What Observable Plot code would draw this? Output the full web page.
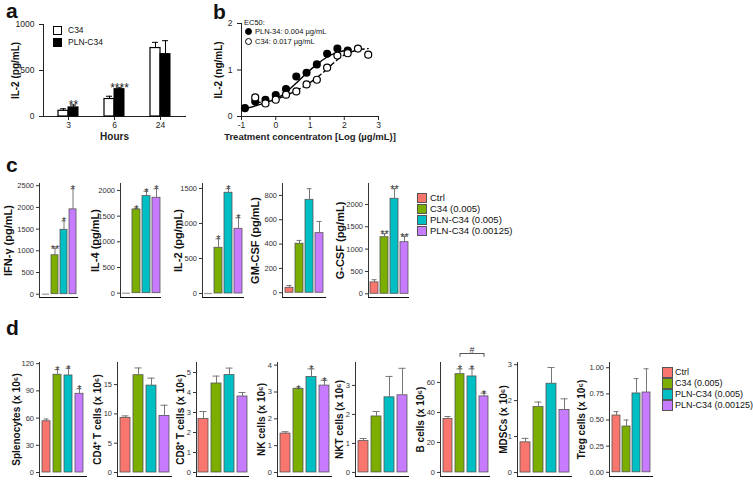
<!DOCTYPE html>
<html>
<head>
<meta charset="utf-8">
<script src="https://cdn.jsdelivr.net/npm/d3@7"></script>
<script src="https://cdn.jsdelivr.net/npm/@observablehq/plot@0.6"></script>
<style>
html,body{margin:0;padding:0;background:#fff;}
#fig{position:relative;width:753px;height:493px;overflow:hidden;background:#fff;font-family:"Liberation Sans",Arial,Helvetica,sans-serif;color:#111;}
.letter{position:absolute;font-weight:bold;font-size:21px;line-height:21px;}
</style>
</head>
<body>
<div id="fig"></div>
<script>
// ---------------- DATA ----------------
// Panel a
const hours = ["3", "6", "24"];
const aC34 = [62, 190, 744];
const aC34Err = [22, 30, 62];
const aPLN = [99, 297, 678];
const aPLNErr = [26, 14, 146];
const aStars = ["**", "****", ""];
const aSeries = ["C34", "PLN-C34"];

// Panel b
const bPLNx = [-0.9, -0.6, -0.3, 0, 0.3, 0.6, 0.9, 1.2, 1.5, 1.8, 2.1];
const bPLNy = [0.18, 0.32, 0.36, 0.46, 0.59, 0.86, 0.94, 1.12, 1.35, 1.46, 1.42];
const bC34x = [-0.6, -0.3, 0, 0.3, 0.6, 0.9, 1.2, 1.5, 1.8, 2.1, 2.4, 2.7];
const bC34y = [0.41, 0.28, 0.36, 0.47, 0.54, 0.69, 0.79, 1.05, 1.31, 1.36, 1.46, 1.33];
const bFitPLNx = [-0.9, -0.5, 0, 0.3, 0.6, 0.9, 1.2, 1.5, 1.8, 2.2];
const bFitPLNy = [0.17, 0.25, 0.38, 0.52, 0.72, 0.93, 1.12, 1.28, 1.38, 1.44];
const bFitC34x = [-0.6, -0.2, 0.2, 0.6, 0.9, 1.2, 1.5, 1.8, 2.1, 2.4, 2.7];
const bFitC34y = [0.30, 0.33, 0.42, 0.56, 0.68, 0.84, 1.02, 1.22, 1.36, 1.43, 1.46];
const bLegend = ["PLN-34: 0.004 µg/mL", "C34: 0.017 µg/mL"];

// Groups for c and d
const groups = ["Ctrl", "C34 (0.005)", "PLN-C34 (0.005)", "PLN-C34 (0.00125)"];
const groupColors = ["#F8766D", "#7CAE00", "#00BFC4", "#C77CFF"];

// Panel c
const ifnMean = [0, 898, 1484, 1955];
const ifnErr = [0, 164, 203, 473];
const ifnStars = ["", "**", "*", "*"];
const il4Mean = [0, 1630, 1890, 1858];
const il4Err = [0, 25, 97, 176];
const il4Stars = ["", "*", "*", "*"];
const il2Mean = [0, 653, 1439, 924];
const il2Err = [0, 128, 57, 157];
const il2Stars = ["", "*", "*", "*"];
const gmMean = [41, 403, 764, 490];
const gmErr = [19, 27, 91, 96];
const gmStars = ["", "", "", ""];
const gcsfMean = [255, 1267, 2127, 1155];
const gcsfErr = [60, 76, 224, 135];
const gcsfStars = ["", "**", "**", "**"];

// Panel d
const splMean = [56.5, 107.8, 107, 86.8];
const splErr = [2.5, 5.6, 8, 5.5];
const splStars = ["", "*", "*", "*"];
const cd4Mean = [9.32, 16.6, 14.83, 9.66];
const cd4Err = [0.34, 1.24, 1.27, 1.82];
const cd8Mean = [2.68, 4.45, 4.87, 3.8];
const cd8Err = [0.37, 0.37, 0.35, 0.2];
const nkMean = [1.45, 3.12, 3.56, 3.24];
const nkErr = [0.07, 0.02, 0.3, 0.2];
const nkStars = ["", "*", "*", "*"];
const nktMean = [1.08, 1.93, 2.59, 2.66];
const nktErr = [0.09, 0.17, 0.72, 0.93];
const bcMean = [35.6, 65.5, 64, 50.7];
const bcErr = [1.7, 3.5, 5.0, 2.2];
const bcStars = ["", "*", "*", "*"];
const bcBracket = {from: "C34 (0.005)", mid: "PLN-C34 (0.005)", to: "PLN-C34 (0.00125)", y: 79.3, label: "#"};
const mdscMean = [0.84, 1.82, 2.47, 1.74];
const mdscErr = [0.11, 0.14, 0.45, 0.31];
const tregMean = [0.543, 0.438, 0.754, 0.763];
const tregErr = [0.037, 0.062, 0.142, 0.227];
const noStars = ["", "", "", ""];

// ---------------- LAYOUT ----------------
const FONT = "'Liberation Sans', Arial, Helvetica, sans-serif";
const fig = document.getElementById("fig");
function place(node, left, top) {
  node.style.position = "absolute";
  node.style.left = left + "px";
  node.style.top = top + "px";
  fig.appendChild(node);
}
function letter(ch, x, y) {
  const d = document.createElement("div");
  d.className = "letter";
  d.textContent = ch;
  d.style.left = x + "px";
  d.style.top = y + "px";
  fig.appendChild(d);
}
function addLegend(x, y, rowH, sw, fontSize, items, textDx, round) {
  items.forEach((it, i) => {
    const s = document.createElement("div");
    s.style.cssText = `position:absolute;left:${x}px;top:${y + i * rowH}px;width:${sw}px;height:${sw}px;background:${it.fill};border:1px solid ${it.stroke};box-sizing:border-box;${round ? "border-radius:50%;" : ""}`;
    fig.appendChild(s);
    const t = document.createElement("div");
    t.textContent = it.label;
    t.style.cssText = `position:absolute;left:${x + textDx}px;top:${y + i * rowH + sw / 2 - fontSize * 0.6}px;font-size:${fontSize}px;line-height:${fontSize * 1.2}px;white-space:nowrap;`;
    fig.appendChild(t);
  });
}
const num = d => String(d);
// rotated y-axis title centred on the frame, shifted left of the axis
const yTitle = (label, offset, size) =>
  Plot.text([label], {frameAnchor: "left", textAnchor: "middle", lineAnchor: "middle", rotate: -90, dx: -offset, fontWeight: "bold", fontSize: size, fill: "#111"});

// ---------------- PANEL A ----------------
const aData = hours.map((h, i) => ({
  h, c34: aC34[i], c34hi: aC34[i] + aC34Err[i], pln: aPLN[i], plnhi: aPLN[i] + aPLNErr[i], star: aStars[i]
}));
const plotA = Plot.plot({
  width: 200, height: 145, marginLeft: 43, marginRight: 15, marginTop: 24, marginBottom: 29,
  style: {fontFamily: FONT, fontSize: "8.5px", color: "#222", overflow: "visible", background: "none"},
  x: {domain: hours, padding: 0.05, tickSize: 4, tickPadding: 1, line: true, label: null},
  y: {domain: [0, 1000], ticks: [0, 500, 1000], tickSize: 4, line: true, label: null, tickFormat: num},
  marks: [
    Plot.barY(aData, {x: "h", y: "c34", fill: "white", stroke: "black", strokeWidth: 1.2, insetLeft: 12, insetRight: 22}),
    Plot.barY(aData, {x: "h", y: "pln", fill: "black", stroke: "black", insetLeft: 22, insetRight: 12}),
    Plot.ruleX(aData, {x: "h", y1: "c34", y2: "c34hi", dx: -5, stroke: "black"}),
    Plot.tickY(aData, {x: "h", y: "c34hi", insetLeft: 14, insetRight: 24, stroke: "black"}),
    Plot.ruleX(aData, {x: "h", y1: "pln", y2: "plnhi", dx: 5, stroke: "black"}),
    Plot.tickY(aData, {x: "h", y: "plnhi", insetLeft: 24, insetRight: 14, stroke: "black"}),
    Plot.text(aData, {x: "h", y: "plnhi", text: "star", dx: 5, lineAnchor: "bottom", dy: 4, fontSize: 12}),
    yTitle("IL-2 (pg/mL)", 28, 10),
    Plot.text(["Hours"], {frameAnchor: "bottom", dy: 23, fontWeight: "bold", fontSize: 10})
  ]
});
place(plotA, 0, 0);
addLegend(53, 26, 12, 9, 8.5, [
  {fill: "white", stroke: "black", label: aSeries[0]},
  {fill: "black", stroke: "black", label: aSeries[1]}
], 15, false);
letter("a", 6, 0);

// ---------------- PANEL B ----------------
const bPLN = bPLNx.map((x, i) => ({x, y: bPLNy[i]}));
const bC34 = bC34x.map((x, i) => ({x, y: bC34y[i]}));
const bFitPLN = bFitPLNx.map((x, i) => ({x, y: bFitPLNy[i]}));
const bFitC34 = bFitC34x.map((x, i) => ({x, y: bFitC34y[i]}));
const plotB = Plot.plot({
  width: 215, height: 145, marginLeft: 41, marginRight: 37, marginTop: 23, marginBottom: 29,
  style: {fontFamily: FONT, fontSize: "8.5px", color: "#222", overflow: "visible", background: "none"},
  x: {domain: [-1, 3], ticks: [-1, 0, 1, 2, 3], tickSize: 4, tickPadding: 1, line: true, label: null, tickFormat: num},
  y: {domain: [0, 2], ticks: [0, 1, 2], tickSize: 4, line: true, label: null, tickFormat: num},
  marks: [
    Plot.line(bFitPLN, {x: "x", y: "y", stroke: "black", strokeWidth: 1.4, curve: "natural"}),
    Plot.line(bFitC34, {x: "x", y: "y", stroke: "black", strokeWidth: 1.4, strokeDasharray: "5,3.5", curve: "natural"}),
    Plot.dot(bPLN, {x: "x", y: "y", r: 3.3, fill: "black", stroke: "black"}),
    Plot.dot(bC34, {x: "x", y: "y", r: 3.5, fill: "white", stroke: "black", strokeWidth: 1.2}),
    yTitle("IL-2 (ng/mL)", 23, 10),
    Plot.text(["Treatment concentraton [Log (µg/mL)]"], {frameAnchor: "bottom", dy: 23, fontWeight: "bold", fontSize: 9.5})
  ]
});
place(plotB, 200, 0);
(function () {
  const t = document.createElement("div");
  t.textContent = "EC50:";
  t.style.cssText = "position:absolute;left:244px;top:18px;font-size:7.5px;line-height:9px;";
  fig.appendChild(t);
})();
addLegend(245, 28, 10, 7, 7.5, [
  {fill: "black", stroke: "black", label: bLegend[0]},
  {fill: "white", stroke: "black", label: bLegend[1]}
], 10, true);
letter("b", 213, 1);

// ---------------- BAR PANEL HELPER ----------------
function barPanel(cfg) {
  const {means, errs, stars, label, axisX, right, frameTop, frameBottom, domain, ticks,
         tickFormat = num, labelOffset, labelSize, bracket} = cfg;
  const ML = 46, MR = 4, MT = 20, MB = 4;
  const data = groups.map((g, i) => ({g, v: means[i], hi: means[i] + errs[i], e: errs[i], s: stars[i]}));
  const marks = [
    Plot.ruleY([domain[0]], {stroke: "#111", strokeWidth: 1.1}),
    Plot.barY(data, {x: "g", y: "v", fill: "g", stroke: "#555", strokeWidth: 0.8}),
    Plot.tickY(data, {filter: d => d.v === 0, x: "g", y: "v", stroke: "#999", strokeWidth: 1.2}),
    Plot.ruleX(data, {filter: d => d.e > 0, x: "g", y1: "v", y2: "hi", stroke: "#777"}),
    Plot.tickY(data, {filter: d => d.e > 0, x: "g", y: "hi", stroke: "#777", insetLeft: 1.5, insetRight: 1.5}),
    Plot.text(data, {filter: d => d.s, x: "g", y: "hi", text: "s", lineAnchor: "bottom", dy: 4.5, fontSize: 11}),
    yTitle(label, labelOffset, labelSize)
  ];
  if (bracket) {
    marks.push(
      Plot.link([bracket], {x1: "from", x2: "to", y1: "y", y2: "y", stroke: "#555"}),
      Plot.ruleX([bracket.from, bracket.to], {x: d => d, y1: bracket.y - 2.5, y2: bracket.y, stroke: "#555"}),
      Plot.text([bracket], {x: "mid", y: "y", text: "label", lineAnchor: "bottom", dy: -1, fontSize: 9})
    );
  }
  const p = Plot.plot({
    width: ML + (right - axisX) + MR,
    height: MT + (frameBottom - frameTop) + MB,
    marginLeft: ML, marginRight: MR, marginTop: MT, marginBottom: MB,
    style: {fontFamily: FONT, fontSize: "7.5px", color: "#333", overflow: "visible", background: "none"},
    x: {domain: groups, axis: null, paddingInner: 0.25, paddingOuter: 0.15},
    y: {domain, ticks, tickFormat, tickSize: 3, tickPadding: 2.5, line: true, label: null},
    color: {domain: groups, range: groupColors},
    marks
  });
  place(p, axisX - ML, frameTop - MT);
  return p;
}

// ---------------- PANEL C ----------------
const cTop = 183, cBottom = 297;
const cPanels = [
  {means: ifnMean, errs: ifnErr, stars: ifnStars, label: "IFN-γ (pg/mL)", axisX: 39, right: 78, domain: [-76, 2551], ticks: [0, 500, 1000, 1500, 2000, 2500], labelOffset: 31},
  {means: il4Mean, errs: il4Err, stars: il4Stars, label: "IL-4 (pg/mL)", axisX: 120, right: 161, domain: [-84, 2136], ticks: [0, 500, 1000, 1500, 2000], labelOffset: 25},
  {means: il2Mean, errs: il2Err, stars: il2Stars, label: "IL-2 (pg/mL)", axisX: 202, right: 244, domain: [-57, 1571], ticks: [0, 500, 1000, 1500], labelOffset: 24},
  {means: gmMean, errs: gmErr, stars: gmStars, label: "GM-CSF (pg/mL)", axisX: 282, right: 326, domain: [-39, 898], ticks: [0, 200, 400, 600, 800], labelOffset: 27},
  {means: gcsfMean, errs: gcsfErr, stars: gcsfStars, label: "G-CSF (pg/mL)", axisX: 368, right: 409, domain: [-83, 2469], ticks: [0, 500, 1000, 1500, 2000], labelOffset: 28}
];
cPanels.forEach(c => barPanel({...c, frameTop: cTop, frameBottom: cBottom, labelSize: 11}));
addLegend(417, 193, 11, 10, 9.5, groups.map((g, i) => ({fill: groupColors[i], stroke: "#555", label: g})), 13, false);
letter("c", 6, 154);

// ---------------- PANEL D ----------------
const dTop = 362, dBottom = 476;
const dPanels = [
  {means: splMean, errs: splErr, stars: splStars, label: "Splenocytes (x 10⁶)", axisX: 39, right: 87, domain: [-4.4, 121.3], ticks: [0, 30, 60, 90, 120], labelOffset: 23},
  {means: cd4Mean, errs: cd4Err, stars: noStars, label: "CD4⁺ T cells (x 10⁶)", axisX: 117, right: 172, domain: [-0.68, 18.77], ticks: [0, 5, 10, 15], labelOffset: 20},
  {means: cd8Mean, errs: cd8Err, stars: noStars, label: "CD8⁺ T cells (x 10⁶)", axisX: 196, right: 249, domain: [-0.2, 5.5], ticks: [0, 1, 2, 3, 4, 5], labelOffset: 16},
  {means: nkMean, errs: nkErr, stars: nkStars, label: "NK cells (x 10⁶)", axisX: 277, right: 332, domain: [-0.15, 4.1], ticks: [0, 1, 2, 3, 4], labelOffset: 16},
  {means: nktMean, errs: nktErr, stars: noStars, label: "NKT cells (x 10⁶)", axisX: 355, right: 409, domain: [-0.14, 3.79], ticks: [0, 1, 2, 3], labelOffset: 16},
  {means: bcMean, errs: bcErr, stars: bcStars, label: "B cells (x 10⁶)", axisX: 440, right: 490, domain: [-2.7, 73.3], ticks: [0, 20, 40, 60], labelOffset: 20, bracket: bcBracket},
  {means: mdscMean, errs: mdscErr, stars: noStars, label: "MDSCs (x 10⁶)", axisX: 517, right: 572, domain: [-0.11, 3.06], ticks: [0, 1, 2, 3], labelOffset: 14},
  {means: tregMean, errs: tregErr, stars: noStars, label: "Treg cells (x 10⁶)", axisX: 609, right: 653, domain: [-0.04, 1.05], ticks: [0, 0.25, 0.5, 0.75, 1], tickFormat: d3.format(".2f"), labelOffset: 28}
];
dPanels.forEach(c => barPanel({...c, frameTop: dTop, frameBottom: dBottom, labelSize: 10}));
addLegend(662, 367, 11, 11, 9, groups.map((g, i) => ({fill: groupColors[i], stroke: "#555", label: g})), 13, false);
letter("d", 6, 317);
</script>
</body>
</html>
